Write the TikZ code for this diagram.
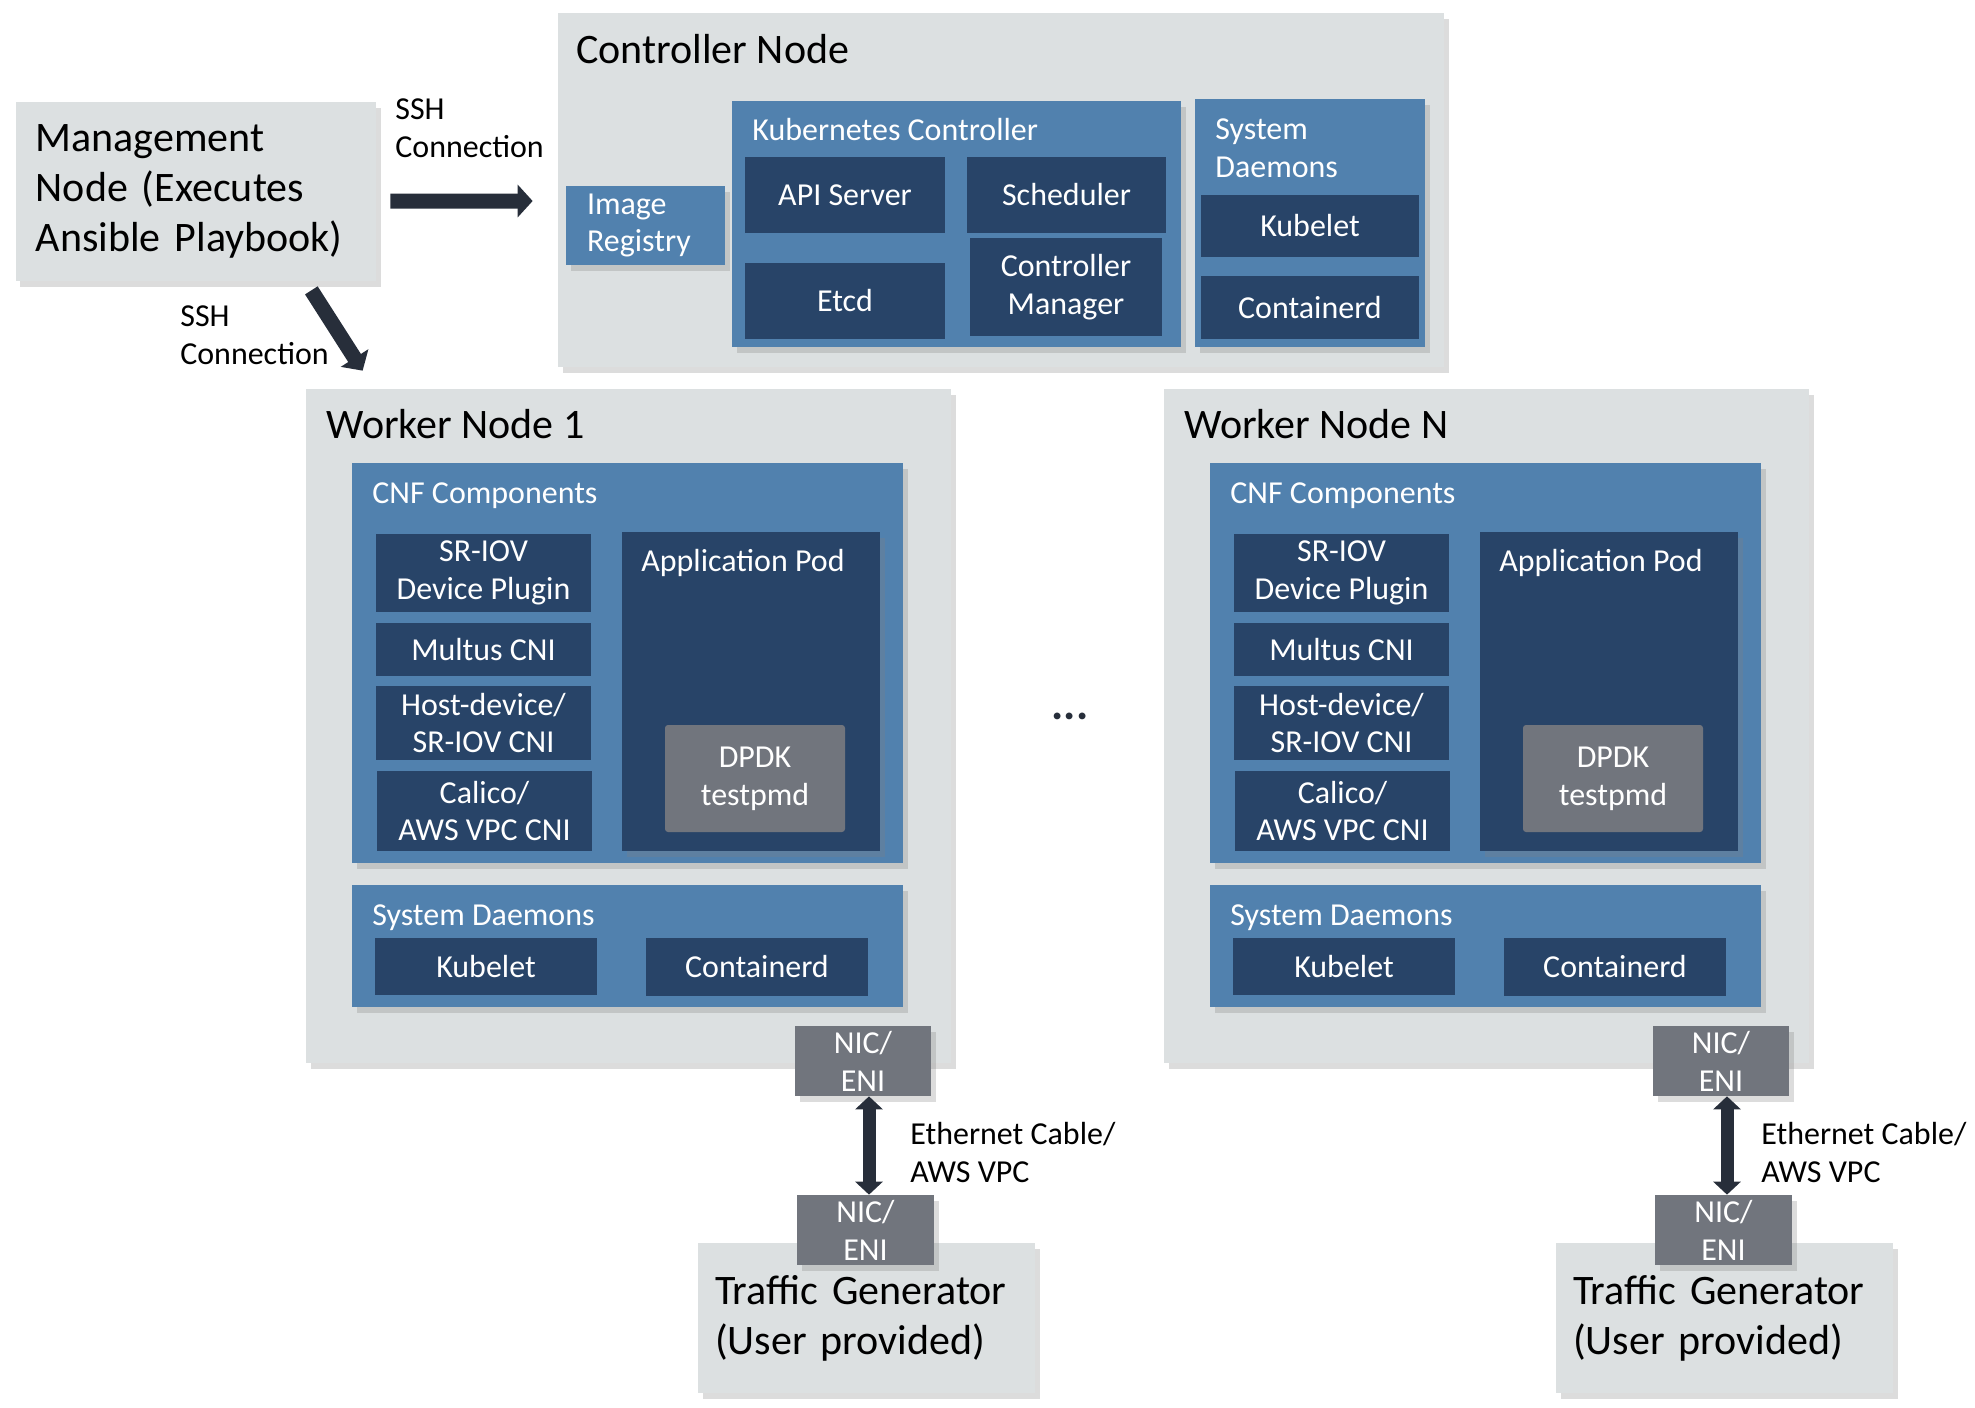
\documentclass[tikz,border=0pt]{standalone}
\usepackage{fontspec}
\setmainfont{Carlito}
\usetikzlibrary{arrows.meta,shadows}

\definecolor{hostgray}{HTML}{DCE0E1}
\definecolor{groupblue}{HTML}{5181AE}
\definecolor{partnavy}{HTML}{284468}
\definecolor{nicgray}{HTML}{71757D}
\definecolor{arrowdark}{HTML}{272E3A}

\newcommand\lblfont{\fontsize{18.2}{21.6}\selectfont}
\newcommand\hdrfont{\fontsize{23.9}{28.5}\selectfont}

\tikzset{
  area/.style n args={4}{at={({((#1)+(#3))/2},{((#2)+(#4))/2})},
    minimum width={((#3)-(#1))*0.02cm},minimum height={((#4)-(#2))*0.02cm}},
  softshadow/.style={drop shadow={shadow xshift=0.09cm,shadow yshift=-0.11cm,opacity=0.28}},
  hostbox/.style={fill=hostgray,inner sep=0pt,softshadow},
  groupbox/.style={fill=groupblue,inner sep=0pt,text=white,align=left,font=\lblfont,softshadow},
  partbox/.style={fill=partnavy,inner sep=0pt,text=white,align=center,font=\lblfont},
  podbox/.style={fill=partnavy,inner sep=0pt,softshadow},
  nicbox/.style={fill=nicgray,inner sep=0pt,text=white,align=center,font=\lblfont,softshadow},
  dpdkbox/.style={fill=nicgray,rounded corners=0.06cm,inner sep=0pt,text=white,align=center,font=\lblfont},
  hosttitle/.style={font=\hdrfont,anchor=base west,inner sep=0pt},
  grouptitle/.style={font=\lblfont,text=white,align=left,anchor=base west,inner sep=0pt},
  linklabel/.style={font=\lblfont,align=left,anchor=base west,inner sep=0pt},
  bigarrow/.style={draw=arrowdark,line width=0.3cm,-{Triangle[width=0.64cm,length=0.3cm]}},
  cablearrow/.style={draw=arrowdark,line width=0.26cm,
    {Triangle[width=0.54cm,length=0.26cm]}-{Triangle[width=0.54cm,length=0.26cm]}}
}

\begin{document}
\begin{tikzpicture}[x=0.02cm,y=-0.02cm]
  \useasboundingbox (0,0) rectangle (1975,1407);

  \node[hostbox,font=\hdrfont,align=left,text width=6.4cm,area={15.5}{102}{376}{281}] (mgmt)
    {Management\\Node (Executes\\Ansible Playbook)};

  \node[hostbox,area={558}{13}{1444}{367}] (ctrl) {};
  \node[hosttitle] (ctrltitle) at (576,63) {Controller Node};
  \node[groupbox,text width=2.34cm,area={566}{186}{725}{265}] (registry) {Image\\Registry};
  \node[groupbox,area={732}{101}{1181}{347}] (k8s) {};
  \node[grouptitle] (k8stitle) at (752,140) {Kubernetes Controller};
  \node[partbox,area={745}{157}{945}{233}] (api) {API Server};
  \node[partbox,area={967}{157}{1166}{233}] (sched) {Scheduler};
  \node[partbox,area={745}{263}{945}{339}] (etcd) {Etcd};
  \node[partbox,area={970}{238}{1162}{336}] (ctlmgr) {Controller\\Manager};
  \node[groupbox,area={1195}{99}{1425}{347}] (ctrlsys) {};
  \node[grouptitle] (ctrlsystitle) at (1215,177) {System\\Daemons};
  \node[partbox,area={1201}{195}{1419}{257}] (ctrlkubelet) {Kubelet};
  \node[partbox,area={1201}{276}{1419}{339}] (ctrlcontainerd) {Containerd};

  \foreach \w/\dx/\lx in {1/0/910,N/858/1761} {
    \node[hostbox,area={306+\dx}{389}{951+\dx}{1063}] (worker\w) {};
    \node[hosttitle] (workertitle\w) at (326+\dx,438) {Worker Node \w};
    \node[groupbox,area={352+\dx}{463}{903+\dx}{863}] (cnf\w) {};
    \node[grouptitle] (cnftitle\w) at (372+\dx,503) {CNF Components};
    \node[partbox,area={376+\dx}{534}{591+\dx}{612}] (sriov\w) {SR-IOV\\Device Plugin};
    \node[partbox,area={376+\dx}{623}{591+\dx}{676}] (multus\w) {Multus CNI};
    \node[partbox,area={376+\dx}{686}{591+\dx}{760}] (hostdev\w) {Host-device/\\SR-IOV CNI};
    \node[partbox,area={377+\dx}{771}{592+\dx}{851}] (calico\w) {Calico/\\AWS VPC CNI};
    \node[podbox,area={622+\dx}{532}{880+\dx}{851}] (pod\w) {};
    \node[grouptitle] (podtitle\w) at (641+\dx,571) {Application Pod};
    \node[dpdkbox,area={665+\dx}{725}{845+\dx}{832}] (dpdk\w) {DPDK\\testpmd};
    \node[groupbox,area={352+\dx}{885}{903+\dx}{1007}] (sys\w) {};
    \node[grouptitle] (systitle\w) at (372+\dx,925) {System Daemons};
    \node[partbox,area={375+\dx}{938}{597+\dx}{995}] (kubelet\w) {Kubelet};
    \node[partbox,area={646+\dx}{938}{868+\dx}{996}] (containerd\w) {Containerd};
    \node[nicbox,area={795+\dx}{1026}{931+\dx}{1096}] (nic\w) {NIC/\\ENI};
    \node[hostbox,font=\hdrfont,align=left,text width=6.06cm,area={698+\dx}{1243}{1035+\dx}{1393}] (gen\w)
      {Traffic Generator\\(User provided)};
    \node[nicbox,area={797+\dx}{1195}{934+\dx}{1265}] (gennic\w) {NIC/\\ENI};
    \draw[cablearrow] ([xshift=0.12cm]nic\w.south) -- ([xshift=0.12cm]nic\w.south |- gennic\w.north);
    \node[linklabel] (cablelabel\w) at (\lx,1182) {Ethernet Cable/\\AWS VPC};
  }

  \node[font=\bfseries\fontsize{26}{30}\selectfont,inner sep=0pt,text=arrowdark] (dots) at (1070,716) {...};

  \draw[bigarrow] ([shift={(14,9.5)}]mgmt.east) -- ([shift={(-25,11)}]ctrl.west);
  \node[linklabel] (sshctrl) at (395,157) {SSH\\Connection};
  \draw[bigarrow] ([shift={(-65,9)}]mgmt.south east) -- ([shift={(57,-18)}]worker1.north west);
  \node[linklabel] (sshworker) at (180,364) {SSH\\Connection};
\end{tikzpicture}
\end{document}
